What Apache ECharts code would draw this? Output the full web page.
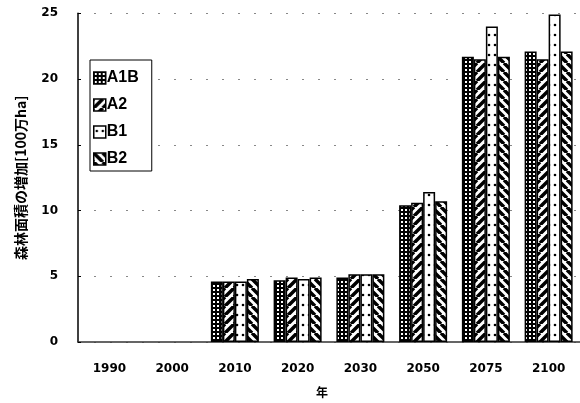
<!DOCTYPE html>
<html>
<head>
<meta charset="utf-8">
<script src="https://cdn.jsdelivr.net/npm/echarts@6/dist/echarts.min.js"></script>
<style>
  html, body { margin: 0; padding: 0; background: #fff; }
  #chart { width: 580px; height: 403px; }
</style>
</head>
<body>
<div id="chart"></div>
<script>
// Forest area increase by scenario (million ha); no increase shown for 1990 and 2000
const years = ['1990', '2000', '2010', '2020', '2030', '2050', '2075', '2100'];
const seriesNames = ['A1B', 'A2', 'B1', 'B2'];
const valuesA1B = [null, null, 4.6, 4.7, 4.9, 10.4, 21.7, 22.1];
const valuesA2  = [null, null, 4.6, 4.9, 5.15, 10.6, 21.5, 21.5];
const valuesB1  = [null, null, 4.6, 4.8, 5.15, 11.4, 24.0, 24.9];
const valuesB2  = [null, null, 4.8, 4.9, 5.15, 10.7, 21.7, 22.1];
const yTicks = [0, 5, 10, 15, 20, 25];

// Monochrome hatch fills
function makePattern(kind) {
  const c = document.createElement('canvas');
  const ctx = c.getContext('2d');
  if (kind === 'grid') {
    c.width = 4; c.height = 4;
    ctx.fillStyle = '#000'; ctx.fillRect(0, 0, 4, 4);
    ctx.fillStyle = '#fff'; ctx.fillRect(1, 1, 2, 2);
  } else if (kind === 'fwd' || kind === 'back') {
    c.width = 9; c.height = 9;
    ctx.fillStyle = '#fff'; ctx.fillRect(0, 0, 9, 9);
    ctx.strokeStyle = '#000'; ctx.lineWidth = 3.5;
    ctx.beginPath();
    for (let k = -2; k <= 2; k++) {
      if (kind === 'fwd') {
        ctx.moveTo(k * 9, 9); ctx.lineTo(k * 9 + 9, 0);
      } else {
        ctx.moveTo(k * 9, 0); ctx.lineTo(k * 9 + 9, 9);
      }
    }
    ctx.stroke();
  } else {
    c.width = 6; c.height = 10;
    ctx.fillStyle = '#fff'; ctx.fillRect(0, 0, 6, 10);
    ctx.fillStyle = '#000';
    ctx.beginPath(); ctx.arc(3, 5, 1.3, 0, Math.PI * 2); ctx.fill();
  }
  return { image: c, repeat: 'repeat' };
}

const fills = [makePattern('grid'), makePattern('fwd'), makePattern('dots'), makePattern('back')];
const seriesData = [valuesA1B, valuesA2, valuesB1, valuesB2];
const boldFont = { fontFamily: 'DejaVu Sans', fontWeight: 'bold', fontSize: 12, color: '#000' };

const chart = echarts.init(document.getElementById('chart'));
chart.setOption({
  animation: false,
  backgroundColor: '#fff',
  grid: { left: 78, top: 13.3, width: 512, height: 333.4, containLabel: false },
  legend: {
    orient: 'vertical',
    left: 90, top: 60,
    itemWidth: 12, itemHeight: 12,
    itemGap: 11,
    padding: [10, 13, 4, 3],
    borderColor: '#000', borderWidth: 1,
    backgroundColor: '#fff',
    textStyle: { fontFamily: 'Liberation Sans', fontWeight: 'bold', fontSize: 16, color: '#000', padding: [0, 0, 0, -4] },
    data: seriesNames.map(n => ({ name: n, icon: 'rect', itemStyle: { borderColor: '#000', borderWidth: 1.5 } }))
  },
  xAxis: {
    type: 'category',
    data: years,
    name: '年',
    nameLocation: 'middle',
    nameGap: 44,
    nameTextStyle: { fontFamily: 'Noto Sans CJK JP', fontWeight: 'bold', fontSize: 12, color: '#000', padding: [0, 0, 0, -14] },
    axisLine: { lineStyle: { color: '#333', width: 1.5 } },
    axisTick: { inside: true, length: 3, lineStyle: { color: '#333' } },
    axisLabel: Object.assign({ margin: 21 }, boldFont)
  },
  yAxis: {
    type: 'value',
    min: yTicks[0], max: yTicks[yTicks.length - 1], interval: 5,
    name: '森林面積の増加[100万ha]',
    nameLocation: 'middle',
    nameGap: 50,
    nameRotate: 90,
    nameTextStyle: { fontFamily: 'Noto Sans CJK JP', fontWeight: 'bold', fontSize: 14, color: '#000' },
    axisLine: { show: true, lineStyle: { color: '#000', width: 1.5 } },
    axisTick: { show: true, inside: true, length: 3, lineStyle: { color: '#000' } },
    axisLabel: Object.assign({ margin: 20 }, boldFont),
    splitLine: { show: true, lineStyle: { color: '#888', width: 1, type: [2, 14] } }
  },
  series: seriesNames.map((n, i) => ({
    name: n,
    type: 'bar',
    data: seriesData[i],
    barWidth: 12,
    barGap: '0%',
    itemStyle: { color: fills[i], borderColor: '#000', borderWidth: 1.5 }
  }))
});
</script>
</body>
</html>
